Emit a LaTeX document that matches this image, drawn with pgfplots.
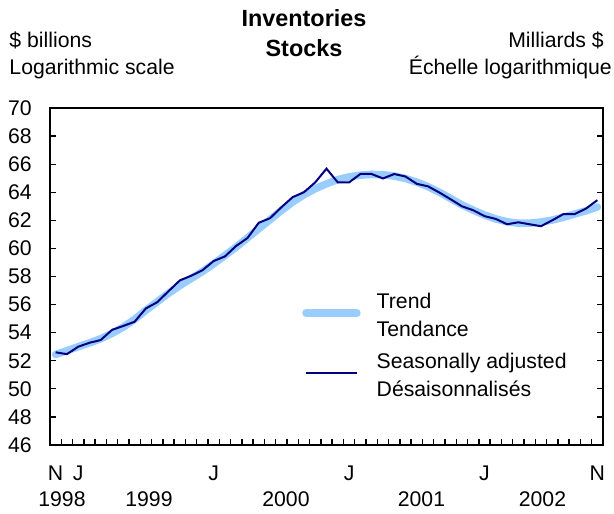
\documentclass[border=0pt]{standalone}
\usepackage{fontspec}
\setmainfont{Liberation Sans}
\usepackage{pgfplots}
\usepackage{pgfplotstable}
\pgfplotsset{compat=1.18}
\definecolor{trendblue}{RGB}{153,204,255}
\definecolor{sanavy}{RGB}{0,0,128}
\pgfplotstableread{
i sa trend
0 52.60 52.45
1 52.47 52.72
2 53.00 53.00
3 53.28 53.27
4 53.48 53.57
5 54.20 53.95
6 54.48 54.40
7 54.78 54.95
8 55.73 55.60
9 56.17 56.20
10 56.95 56.80
11 57.72 57.35
12 58.05 57.85
13 58.44 58.35
14 59.10 58.90
15 59.43 59.50
16 60.18 60.10
17 60.74 60.75
18 61.83 61.40
19 62.15 62.05
20 62.93 62.70
21 63.65 63.30
22 64.00 63.82
23 64.70 64.25
24 65.68 64.60
25 64.70 64.90
26 64.70 65.10
27 65.30 65.22
28 65.30 65.27
29 64.98 65.25
30 65.30 65.15
31 65.12 64.98
32 64.60 64.72
33 64.42 64.40
34 63.98 64.00
35 63.50 63.55
36 63.00 63.10
37 62.72 62.72
38 62.30 62.38
39 62.10 62.10
40 61.72 61.90
41 61.86 61.80
42 61.72 61.80
43 61.58 61.88
44 62.00 62.02
45 62.45 62.22
46 62.45 62.45
47 62.84 62.68
48 63.44 62.95
}\datatable
\begin{document}
\fontsize{21.3}{28}\selectfont
\begin{tikzpicture}
\begin{axis}[
  at={(0,0)}, anchor=south west,
  width=553bp, height=337bp, scale only axis,
  xmin=-0.5, xmax=48.5, ymin=46, ymax=70,
  ytick={46,48,...,70},
  xtick={0.5,1.5,...,47.5},
  xticklabels={},
  extra x ticks={0,2,14,26,38,48},
  extra x tick labels={N,J,J,J,J,N},
  extra x tick style={major tick length=0pt, xticklabel style={anchor=base, yshift=-35bp, inner sep=0pt}},
  tick align=inside,
  xtick pos=left,
  ytick pos=both,
  major tick length=6bp,
  every tick/.style={black, line width=1.3bp},
  axis line style={line width=2bp},
  yticklabel style={anchor=east, inner sep=0pt, xshift=-18bp},
  /pgf/number format/assume math mode=true,
  legend cell align=left,
  legend style={at={(rel axis cs:0.4557,0.4522)}, anchor=north west, draw=none, fill=none,
    inner sep=0pt, row sep=13.5bp, /tikz/column sep=16bp, cells={align=left}, nodes={inner sep=0pt}},
  legend image code/.code={\draw[#1] (0bp,3bp) -- (51bp,3bp);},
]
\addplot[trendblue, line width=7.5bp, line join=round, line cap=round] table[x=i, y=trend] {\datatable};
\addlegendentry{Trend\\Tendance}
\addplot[sanavy, line width=2bp, line join=miter] table[x=i, y=sa] {\datatable};
\addlegendentry{Seasonally adjusted\\Désaisonnalisés}
\end{axis}
\path (-50bp,-69bp) rectangle (564bp,445bp);
\node[anchor=base west, inner sep=0pt] at (-40.7bp,397.3bp) {\$ billions};
\node[anchor=base west, inner sep=0pt] at (-40.7bp,370.7bp) {Logarithmic scale};
\node[anchor=base east, inner sep=0pt] at (554bp,397.3bp) {Milliards \$};
\node[anchor=base east, inner sep=0pt] at (562bp,370.7bp) {Échelle logarithmique};
\node[anchor=base, inner sep=0pt, font=\fontsize{23.5}{28}\selectfont\bfseries] at (254bp,418bp) {Inventories};
\node[anchor=base, inner sep=0pt, font=\fontsize{23.5}{28}\selectfont\bfseries] at (254bp,388bp) {Stocks};
\node[anchor=base, inner sep=0pt] at (12bp,-61bp) {1998};
\node[anchor=base, inner sep=0pt] at (99bp,-61bp) {1999};
\node[anchor=base, inner sep=0pt] at (236bp,-61bp) {2000};
\node[anchor=base, inner sep=0pt] at (371.5bp,-61bp) {2001};
\node[anchor=base, inner sep=0pt] at (492.5bp,-61bp) {2002};
\end{tikzpicture}
\end{document}
